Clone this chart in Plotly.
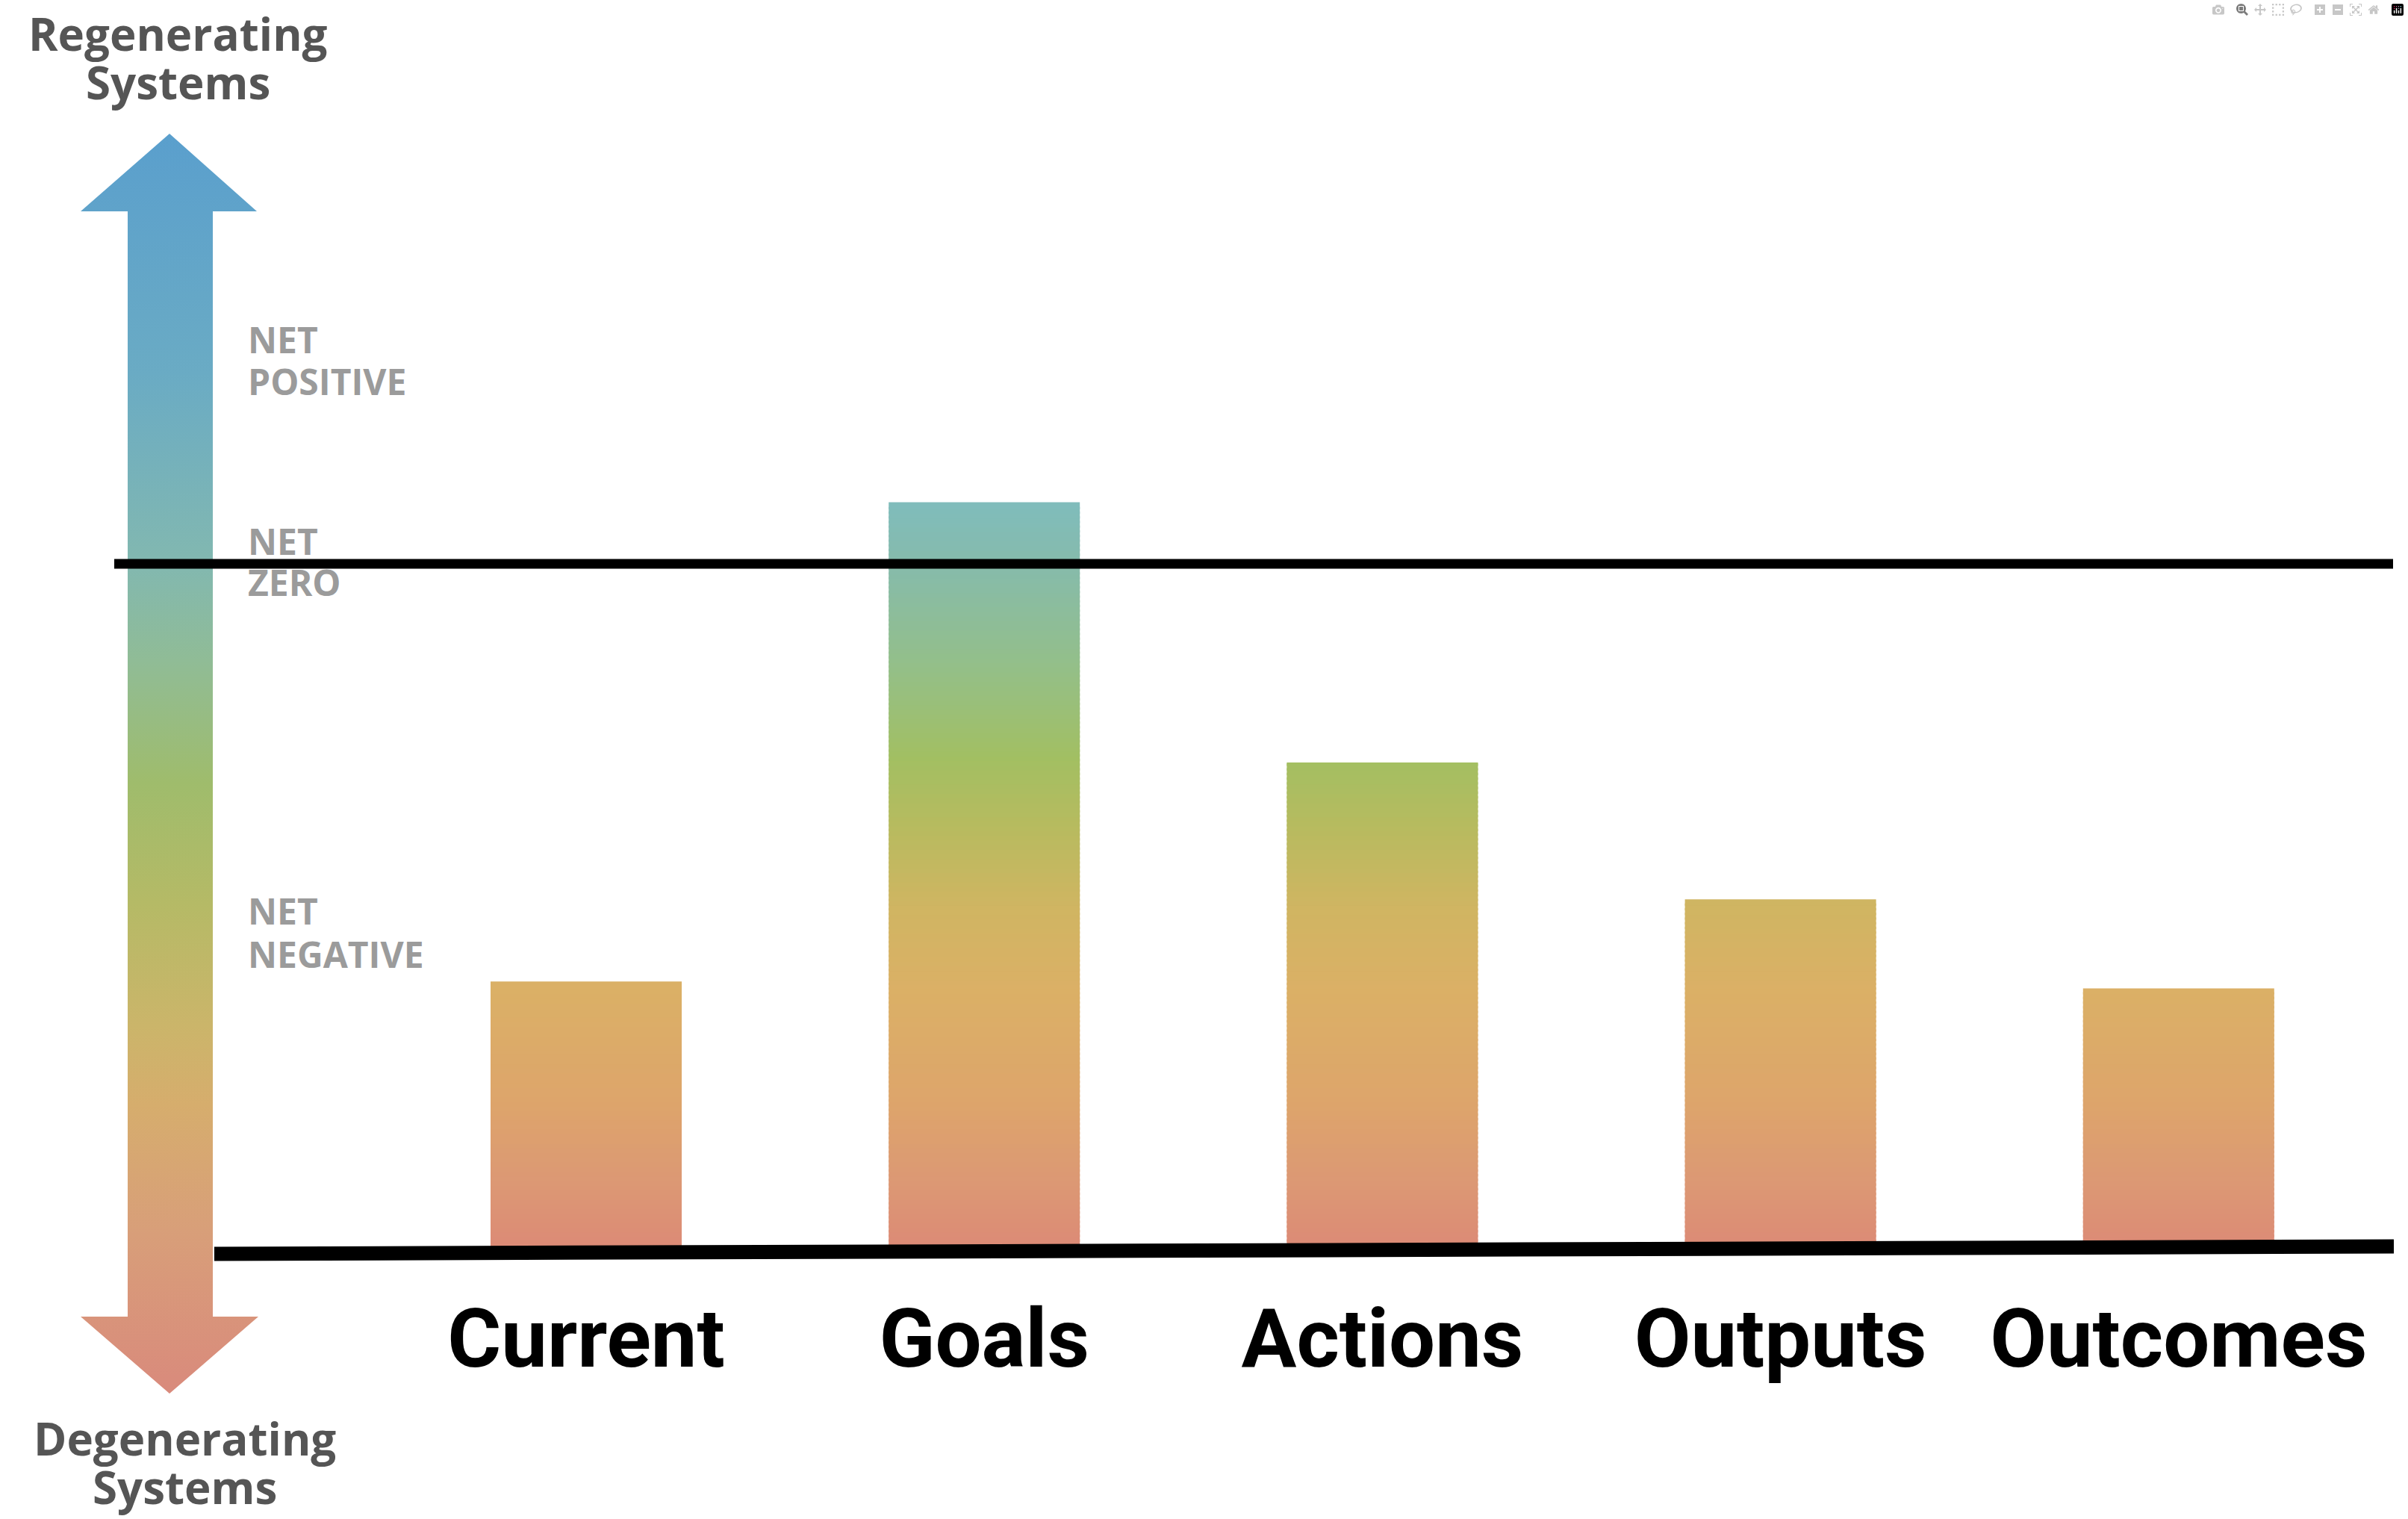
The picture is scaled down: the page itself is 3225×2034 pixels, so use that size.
import numpy as np
import plotly.graph_objects as go

# data
categories = ["Current", "Goals", "Actions", "Outputs", "Outcomes"]
values = [39, 109, 71, 51, 38]      # net zero = 100, baseline = 0
net_zero = 100

W, H = 3225, 2034
BASE_PX = 1672          # pixel row of the baseline
PX_PER_UNIT = 9.17
FIRST_CX = 785          # centre of first bar (px)
CAT_STEP = 533.2        # px between bars
BAR_W = 256

# bar gradient, stops in value units
bar_stops = [(0, "#dc8a76"), (10, "#dc9874"), (22, "#dda56b"), (38, "#dbb066"),
             (50, "#d0b562"), (62, "#b7bb5f"), (72, "#a2bf62"), (85, "#94bf88"),
             (100, "#86bbab"), (110, "#7fbcbd")]
CMAX = 110
bar_scale = [[v / CMAX, c] for v, c in bar_stops]

# arrow gradient, stops in pixel rows (bottom tip -> top tip)
ARROW_BOT, ARROW_TOP = 1866, 179
arrow_stops = [(1866, "#d98a7c"), (1644, "#d89f79"), (1480, "#d6ad6d"), (1373, "#cbb56a"),
               (1210, "#b5ba66"), (1048, "#9fbc6c"), (885, "#90bc96"), (755, "#82b8b0"),
               (500, "#6aabc4"), (179, "#5a9fcd")]
arrow_scale = [[(ARROW_BOT - p) / (ARROW_BOT - ARROW_TOP), c] for p, c in arrow_stops]

fig = go.Figure()

# each bar is cut into thin slices (bottom to top) so it gets a vertical gradient
n_slices = 160
step = max(values) / n_slices
sx, sbase, sh, sc = [], [], [], []
for k in range(n_slices):
    lo = k * step
    for cat, v in zip(categories, values):
        if v > lo:
            top = min(lo + step, v)
            b = max(lo - step * 0.5, 0)      # small overlap hides seams
            sx.append(cat)
            sbase.append(b)
            sh.append(top - b)
            sc.append((lo + top) / 2)

fig.add_trace(go.Bar(
    x=sx, y=sh, base=sbase, width=BAR_W / CAT_STEP,
    marker=dict(color=sc, colorscale=bar_scale, cmin=0, cmax=CMAX, line=dict(width=0)),
    hoverinfo="skip", showlegend=False,
))

# double-headed arrow on the left (pixel coordinates)
ax = [227, 344, 285, 285, 346, 227, 108, 171, 171, 108, 227]
ay = [179, 283, 283, 1763, 1763, 1866, 1763, 1763, 283, 283, 179]
fig.add_trace(go.Scatter(
    x=ax, y=ay, xaxis="x2", yaxis="y2", mode="lines", line=dict(width=0),
    fill="toself",
    fillgradient=dict(type="vertical", colorscale=arrow_scale, start=ARROW_BOT, stop=ARROW_TOP),
    hoverinfo="skip", showlegend=False,
))

# lines: net zero and baseline
fig.add_shape(type="line", xref="paper", yref="y", x0=153 / W, x1=3205 / W,
              y0=net_zero, y1=net_zero, line=dict(color="black", width=13))
fig.add_shape(type="line", xref="paper", yref="y2", x0=287 / W, x1=3206 / W,
              y0=1679, y1=1669, line=dict(color="black", width=19))

# texts
side_labels = [
    ("Regenerating", 238, 45, 60, "#555555", "center"),
    ("Systems", 238, 110, 60, "#555555", "center"),
    ("Degenerating", 247, 1926, 60, "#555555", "center"),
    ("Systems", 247, 1991, 60, "#555555", "center"),
    ("NET", 330, 454, 48, "#9b9b9b", "left"),
    ("POSITIVE", 330, 510, 48, "#9b9b9b", "left"),
    ("NET", 330, 724, 48, "#9b9b9b", "left"),
    ("ZERO", 330, 779, 48, "#9b9b9b", "left"),
    ("NET", 330, 1219, 48, "#9b9b9b", "left"),
    ("NEGATIVE", 330, 1277, 48, "#9b9b9b", "left"),
]
for text, x, y, size, color, anchor in side_labels:
    fig.add_annotation(text=text, x=x, y=y, xref="x2", yref="y2", showarrow=False,
                       xanchor=anchor, yanchor="middle",
                       font=dict(family="Open Sans", size=size, color=color, weight="bold"))

fig.update_layout(
    width=W, height=H,
    margin=dict(l=0, r=0, t=0, b=0),
    paper_bgcolor="white", plot_bgcolor="rgba(0,0,0,0)",
    showlegend=False, barmode="overlay",
    xaxis=dict(type="category", categoryorder="array", categoryarray=categories,
               domain=[0, 1], anchor="y",
               range=[-FIRST_CX / CAT_STEP, (W - FIRST_CX) / CAT_STEP],
               showgrid=False, zeroline=False, showline=False, ticks="",
               tickfont=dict(family="Roboto", size=110, color="black", weight="bold"),
               ticklabelstandoff=47),
    yaxis=dict(domain=[(H - BASE_PX) / H, 1], anchor="x",
               range=[0, BASE_PX / PX_PER_UNIT], visible=False),
    xaxis2=dict(domain=[0, 1], range=[0, W], anchor="y2", visible=False),
    yaxis2=dict(domain=[0, 1], range=[H, 0], anchor="x2", visible=False),
)

fig.write_html("out.html", post_script="document.body.style.margin='0';")
